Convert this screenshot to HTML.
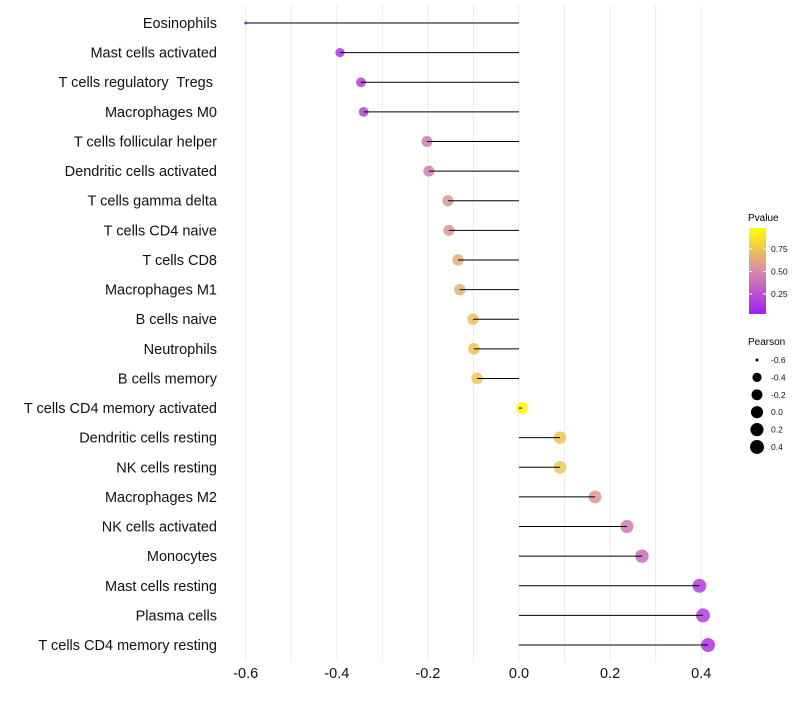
<!DOCTYPE html>
<html><head><meta charset="utf-8"><style>
body{margin:0;background:#fff;font-family:"Liberation Sans",sans-serif}
svg text{font-family:"Liberation Sans",sans-serif;white-space:pre}
</style></head><body>
<svg id="chart" width="800" height="700">
<defs><linearGradient id="pg" x1="0" y1="1" x2="0" y2="0">
<stop offset="0" stop-color="#a020f0"/><stop offset="0.5" stop-color="#d88aa8"/><stop offset="1" stop-color="#ffff00"/></linearGradient></defs>
<g id="grid"></g>
<g id="marks"></g>
<g id="yl"></g>
<g id="xl"></g>
<g>
<text x="748" y="221" font-size="10">Pvalue</text>
<rect x="749" y="228" width="17" height="86" fill="url(#pg)"/>
<g id="cbt"></g>
</g>
<g id="sl">
<text x="748" y="345" font-size="10">Pearson</text>
</g>
</svg>
<script>
const categories=["Eosinophils","Mast cells activated","T cells regulatory  Tregs ","Macrophages M0","T cells follicular helper","Dendritic cells activated","T cells gamma delta","T cells CD4 naive","T cells CD8","Macrophages M1","B cells naive","Neutrophils","B cells memory","T cells CD4 memory activated","Dendritic cells resting","NK cells resting","Macrophages M2","NK cells activated","Monocytes","Mast cells resting","Plasma cells","T cells CD4 memory resting"];
const pearson=[-0.60,-0.393,-0.347,-0.341,-0.202,-0.198,-0.156,-0.154,-0.134,-0.130,-0.101,-0.099,-0.092,0.007,0.09,0.09,0.167,0.237,0.270,0.396,0.404,0.415];
const pvalue=[0.02,0.12,0.15,0.16,0.42,0.44,0.55,0.56,0.64,0.65,0.74,0.74,0.76,0.98,0.75,0.75,0.56,0.42,0.36,0.14,0.14,0.10];
const xTicks=[-0.6,-0.4,-0.2,0.0,0.2,0.4];
const xTickLabels=["-0.6","-0.4","-0.2","0.0","0.2","0.4"];
const cbTicks=[0.25,0.50,0.75];
const sizeTicks=[-0.6,-0.4,-0.2,0.0,0.2,0.4];
const NS="http://www.w3.org/2000/svg";
const x=v=>519+v*455.5;
const y=i=>23+i*29.62;
const cb=p=>316.5-p*90;
function r(v){const t=Math.max(0,(v+0.6)/1.02);return 1.5+5.5*Math.pow(t,0.35);}
function col(p){const s=[[0,[160,32,240]],[0.5,[216,138,168]],[1,[255,255,0]]];
 let a=s[0],b=s[1];if(p>0.5){a=s[1];b=s[2];}
 const t=Math.min(1,Math.max(0,(p-a[0])/(b[0]-a[0])));
 return "rgb("+a[1].map((c,k)=>Math.round(c+(b[1][k]-c)*t)).join(",")+")";}
function mk(tag,at,parent){const e=document.createElementNS(NS,tag);for(const k in at)e.setAttribute(k,at[k]);document.getElementById(parent).appendChild(e);return e;}
for(let v=-0.6;v<=0.451;v+=0.1){const g=mk("line",{x1:x(v),x2:x(v),y1:5,y2:662,stroke:"#ebebeb","stroke-width":1},"grid");

}
categories.forEach((c,i)=>{
 const d=mk("circle",{cx:x(pearson[i]),cy:y(i),r:r(pearson[i]),fill:col(pvalue[i]),"fill-opacity":0.85},"marks");
 
 
 const l=mk("line",{x1:x(0),x2:x(pearson[i]),y1:y(i),y2:y(i),stroke:"#000","stroke-width":1},"marks");
 
 
 const t=mk("text",{x:217,y:y(i)+5,"text-anchor":"end","font-size":14.5,fill:"#111"},"yl");
 t.textContent=c;
 
 
});
xTicks.forEach((v,i)=>{const t=mk("text",{x:x(v),y:678,"text-anchor":"middle","font-size":14.5,fill:"#111"},"xl");
 t.textContent=xTickLabels[i];
 
 });
cbTicks.forEach(p=>{const t=mk("text",{x:771,y:cb(p)+3,"font-size":8.5,fill:"#111"},"cbt");
 t.textContent=p.toFixed(2);
 
 
 mk("line",{x1:749,x2:752,y1:cb(p),y2:cb(p),stroke:"#fff"},"cbt");mk("line",{x1:763,x2:766,y1:cb(p),y2:cb(p),stroke:"#fff"},"cbt");});
sizeTicks.forEach((v,i)=>{const yy=360+i*17.4;
 const c=mk("circle",{cx:757,cy:yy,r:r(v),fill:"#000"},"sl");
 
 
 const t=mk("text",{x:771,y:yy+3,"font-size":8.5,fill:"#111"},"sl");
 t.textContent=v.toFixed(1);
 
 });
</script>
</body></html>
